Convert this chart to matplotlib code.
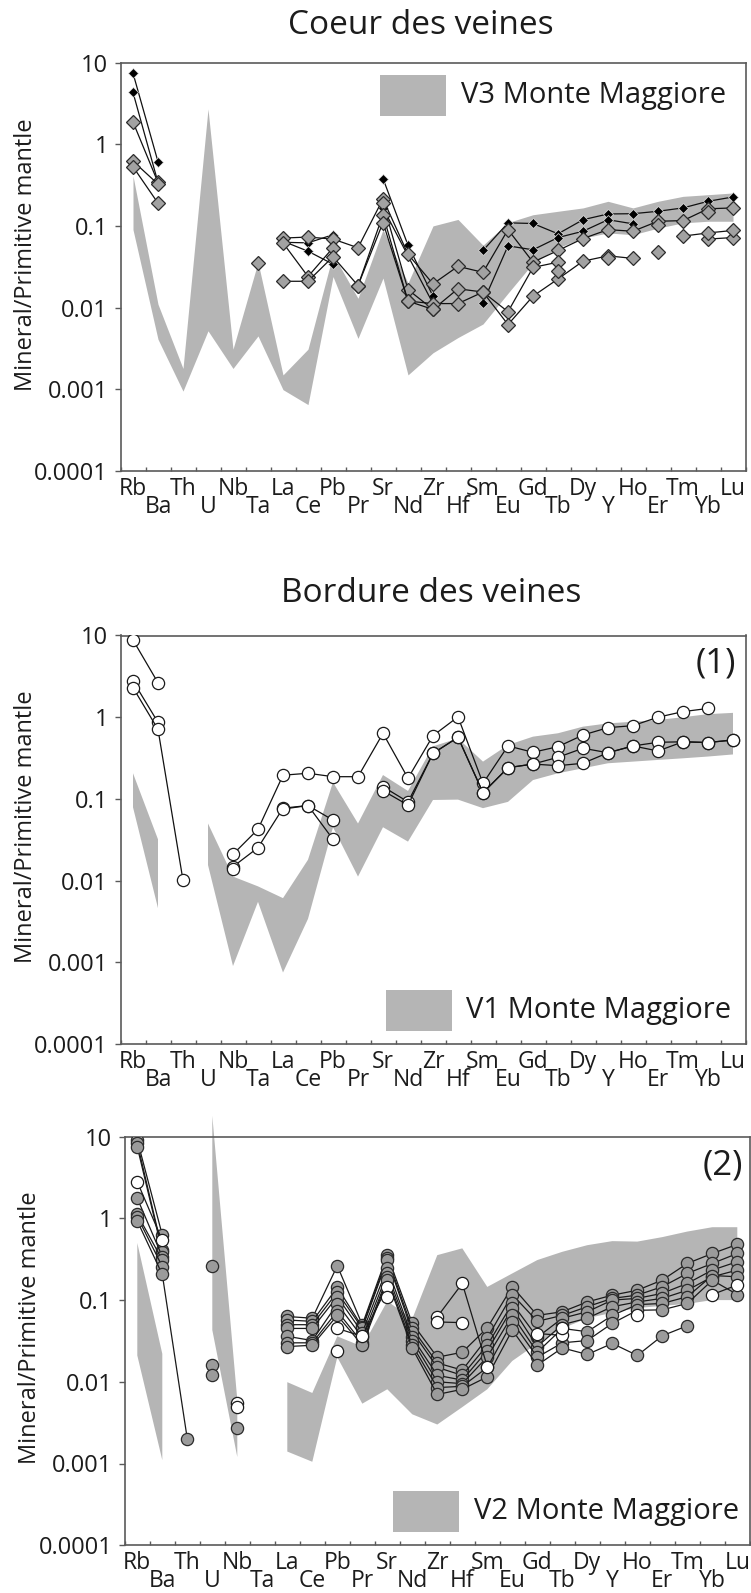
import numpy as np
import matplotlib
matplotlib.use("Agg")
import matplotlib.pyplot as plt
from matplotlib.patches import Rectangle
from matplotlib.ticker import FixedLocator, NullLocator

plt.rcParams['font.family'] = ['Open Sans', 'DejaVu Sans']

n = np.nan
elements = ['Rb', 'Ba', 'Th', 'U', 'Nb', 'Ta', 'La', 'Ce', 'Pb', 'Pr', 'Sr', 'Nd', 'Zr',
            'Hf', 'Sm', 'Eu', 'Gd', 'Tb', 'Dy', 'Y', 'Ho', 'Er', 'Tm', 'Yb', 'Lu']

# --- Coeur des veines : V3 field + diamonds
v3_low = [0.09, 0.0041, 0.00095, 0.0052, 0.0018, 0.0045, 0.00099, 0.00065, 0.024, 0.0042,
          0.023, 0.0015, 0.0028, 0.0043, 0.0063, 0.015, 0.035, 0.054, 0.071, 0.082,
          0.078, 0.094, 0.109, 0.114, 0.114]
v3_high = [0.41, 0.011, 0.0018, 2.7, 0.0031, 0.036, 0.0015, 0.0031, 0.045, 0.013,
           0.09, 0.02, 0.1, 0.12, 0.058, 0.11, 0.137, 0.151, 0.166, 0.2,
           0.166, 0.2, 0.23, 0.241, 0.253]
core_black_1 = [7.4, 0.61, n, n, n, n, 0.063, 0.062, 0.078, n, 0.38, 0.058, 0.0138, n, 0.05,
                0.109, 0.107, 0.08, 0.119, 0.14, 0.141, 0.151, 0.166, 0.2, 0.226]
core_black_2 = [4.3, 0.34, n, n, n, n, 0.065, 0.049, 0.034, n, 0.166, 0.043, 0.0112, n, 0.0115,
                0.057, 0.051, 0.072, 0.086, 0.119, 0.106, n, n, n, n]
core_gray_1 = [1.87, 0.34, n, n, n, n, 0.071, 0.073, 0.069, 0.054, 0.214, 0.045, 0.0195, 0.032,
               0.027, 0.09, 0.036, 0.05, 0.07, 0.09, 0.086, 0.114, 0.116, 0.162, 0.166]
core_gray_2 = [0.62, 0.325, n, n, n, n, 0.062, 0.024, 0.054, n, 0.19, 0.0166, 0.0095, 0.017,
               0.0155, 0.0089, 0.031, 0.036, n, n, n, 0.103, n, 0.146, n]
core_gray_3 = [0.53, 0.19, n, n, n, n, 0.021, 0.021, 0.042, 0.0186, 0.137, 0.012, 0.0112, 0.0112,
               0.0155, 0.0062, 0.0138, 0.0224, 0.037, 0.043, 0.04, n, n, n, n]
core_gray_4 = [n, n, n, n, n, 0.035, n, n, n, 0.0186, 0.11, 0.012, 0.0095, n, n,
               n, n, 0.028, n, 0.04, n, 0.048, n, 0.069, 0.072]
core_gray_5 = [n, n, n, n, n, n, n, n, n, n, n, n, n, n, n,
               n, n, n, n, n, n, n, 0.075, 0.082, 0.088]

# --- Bordure des veines (1) : V1 field + open circles
v1_low = [0.079, 0.0046, n, 0.0155, 0.0009, 0.0055, 0.00075, 0.0034, 0.045, 0.0112,
          0.045, 0.03, 0.097, 0.098, 0.077, 0.092, 0.17, 0.206, 0.237, 0.273,
          0.286, 0.3, 0.314, 0.33, 0.35]
v1_high = [0.206, 0.032, n, 0.05, 0.0112, 0.0085, 0.0061, 0.018, 0.16, 0.05,
           0.196, 0.125, 0.44, 0.55, 0.286, 0.457, 0.578, 0.636, 0.766, 0.84,
           0.88, 0.925, 1.0, 1.09, 1.13]
rim1_a = [8.8, 2.64, n, n, 0.021, 0.0425, 0.195, 0.206, 0.187, 0.187, 0.635, 0.179, 0.594,
          1.01, 0.155, 0.445, 0.372, 0.436, 0.605, 0.745, 0.788, 1.0, 1.17, 1.28, n]
rim1_b = [2.77, 0.865, n, n, 0.0148, 0.0253, 0.077, 0.083, 0.055, n, 0.141, 0.092, 0.361,
          0.567, 0.119, 0.241, 0.267, 0.323, 0.417, 0.367, 0.445, 0.493, 0.5, 0.49, 0.526]
rim1_c = [2.3, 0.71, 0.0101, n, 0.014, n, 0.075, 0.083, 0.032, n, 0.126, 0.084, 0.361,
          0.567, 0.119, 0.241, 0.267, 0.255, 0.273, 0.367, 0.445, 0.386, 0.5, 0.49, 0.526]

# --- Bordure des veines (2) : V2 field + grey / open circles
v2_low = [0.021, 0.0011, n, 0.043, 0.0012, n, 0.0014, 0.00105, 0.02, 0.0054,
          0.0081, 0.004, 0.003, 0.0049, 0.0081, 0.018, 0.0295, 0.045, 0.06, 0.07,
          0.08, 0.085, 0.09, 0.1, 0.1]
v2_high = [0.5, 0.022, n, 18.0, 0.006, n, 0.0099, 0.0073, 0.036, 0.027,
           0.097, 0.059, 0.355, 0.43, 0.145, 0.212, 0.309, 0.39, 0.47, 0.527,
           0.52, 0.59, 0.69, 0.78, 0.78]
rim2_g1 = [9.1, 0.625, n, 0.263, n, n, 0.063, 0.06, 0.263, 0.05, 0.356, 0.052, 0.02, 0.023,
           0.0458, 0.146, 0.065, 0.072, 0.095, 0.115, 0.132, 0.176, 0.281, 0.372, 0.48]
rim2_g2 = [8.3, 0.41, n, 0.016, n, n, 0.057, 0.055, 0.143, 0.047, 0.33, 0.045, 0.017, 0.0139,
           0.0345, 0.117, 0.055, 0.065, 0.083, 0.105, 0.115, 0.146, 0.212, 0.281, 0.372]
rim2_g3 = [7.5, 0.39, n, 0.012, n, n, 0.05, 0.05, 0.125, 0.045, 0.31, 0.041, 0.015, 0.012,
           0.028, 0.091, 0.035, 0.06, 0.072, 0.1, 0.105, 0.121, 0.16, 0.233, 0.295]
rim2_g4 = [1.76, 0.34, n, n, 0.0027, n, 0.045, 0.045, 0.11, 0.04, 0.25, 0.035, 0.012, 0.0105,
           0.024, 0.08, 0.027, 0.05, 0.06, 0.083, 0.095, 0.105, 0.132, 0.193, 0.233]
rim2_g5 = [1.12, 0.31, n, n, n, n, 0.036, 0.032, 0.09, 0.035, 0.212, 0.032, 0.01, 0.0095,
           0.0202, 0.065, 0.023, 0.045, 0.041, 0.065, 0.088, 0.091, 0.11, 0.2, 0.193]
rim2_g6 = [1.05, 0.257, n, n, n, n, 0.03, 0.03, 0.073, 0.03, 0.19, 0.028, 0.0085, 0.0088,
           0.015, 0.054, 0.02, 0.03, 0.032, 0.052, 0.075, 0.076, 0.091, 0.175, 0.117]
rim2_g7 = [0.93, 0.206, 0.002, n, n, n, 0.027, 0.028, 0.065, 0.028, 0.176, 0.0257, 0.007, 0.0081,
           0.0115, 0.043, 0.016, 0.026, 0.0216, 0.0295, 0.021, 0.0366, 0.0485, n, n]
rim2_w1 = [2.8, 0.54, n, n, 0.0055, n, n, n, 0.045, 0.036, 0.145, n, 0.0625, 0.16, 0.0153,
           n, 0.039, 0.037, n, n, 0.065, n, n, 0.117, 0.153]
rim2_w2 = [n, n, n, n, 0.0049, n, n, n, 0.024, n, 0.11, n, 0.054, 0.053, n,
           n, n, 0.045, n, n, n, n, n, n, n]

W, H = 751, 1593
BAND = '#b5b5b5'
SPINE = '#5a5a5a'
TXT = '#1c1c1c'
AX_W, AX_H = 625, 408.5

fig = plt.figure(figsize=(W / 100, H / 100), dpi=100)


def make_axes(left, top):
    ax = fig.add_axes([left / W, 1 - (top + AX_H) / H, AX_W / W, AX_H / H])
    ax.set_yscale('log')
    ax.set_ylim(1e-4, 10)
    ax.set_xlim(-0.5, 24.5)
    ax.yaxis.set_major_locator(FixedLocator([1e-4, 1e-3, 1e-2, 1e-1, 1, 10]))
    ax.yaxis.set_minor_locator(NullLocator())
    ax.set_yticklabels(['0.0001', '0.001', '0.01', '0.1', '1', '10'])
    ax.set_xticks(np.arange(-0.5, 25, 1))
    ax.set_xticklabels([])
    ax.tick_params(axis='x', direction='in', length=3, width=1, color=SPINE)
    ax.tick_params(axis='y', direction='out', length=4, width=1, color=SPINE,
                   pad=5, labelsize=17, labelcolor=TXT)
    for s in ax.spines.values():
        s.set_color(SPINE)
        s.set_linewidth(1.2)
    tr = ax.get_xaxis_transform()
    for i, el in enumerate(elements):
        off = 18 if i % 2 == 0 else 36
        ax.text(i, -off / AX_H, el, transform=tr, ha='center', va='center',
                fontsize=16.5, color=TXT)
    return ax


def band(ax, low, high, clip=True):
    x = np.arange(len(elements))
    ax.fill_between(x, np.array(low, float), np.array(high, float), color=BAND,
                    lw=0, zorder=1, clip_on=clip)


def legend_box(ax, left, top, label):
    # grey swatch + label, positioned in figure pixels
    x0 = (left - ax_left[ax]) / AX_W
    y1 = 1 - (top - ax_top[ax]) / AX_H
    ax.add_patch(Rectangle((x0, y1 - 41 / AX_H), 66 / AX_W, 41 / AX_H,
                           transform=ax.transAxes, color=BAND, lw=0, zorder=1))
    ax.text(x0 + 81 / AX_W, y1 - 21 / AX_H, label, transform=ax.transAxes,
            ha='left', va='center', fontsize=21, color=TXT)


ax_left, ax_top = {}, {}
x = np.arange(len(elements))

# ---------- panel 1
ax1 = make_axes(120.5, 62.5)
ax_left[ax1], ax_top[ax1] = 120.5, 62.5
band(ax1, v3_low, v3_high)
for s in [core_black_1, core_black_2]:
    ax1.plot(x, s, color='#111111', lw=0.9, marker='D', ms=5.2, mfc='black',
             mec='#e0e0e0', mew=0.5, zorder=3)
for s in [core_gray_1, core_gray_2, core_gray_3, core_gray_4, core_gray_5]:
    ax1.plot(x, s, color='#111111', lw=0.9, marker='D', ms=7, mfc='#a2a2a2',
             mec='#2b2b2b', mew=0.9, zorder=4)
legend_box(ax1, 380, 75, 'V3 Monte Maggiore')
fig.text(421 / W, 1 - 26 / H, 'Coeur des veines', ha='center', va='center',
         fontsize=24, color=TXT)

# ---------- panel 2
ax2 = make_axes(120.5, 635.5)
ax_left[ax2], ax_top[ax2] = 120.5, 635.5
band(ax2, v1_low, v1_high)
for s in [rim1_a, rim1_b, rim1_c]:
    ax2.plot(x, s, color='#111111', lw=0.9, marker='o', ms=8.8, mfc='white',
             mec='#1a1a1a', mew=0.9, zorder=4)
legend_box(ax2, 385.5, 989.5, 'V1 Monte Maggiore')
fig.text(431 / W, 1 - 593 / H, 'Bordure des veines', ha='center', va='center',
         fontsize=24, color=TXT)
fig.text(716 / W, 1 - 663 / H, '(1)', ha='center', va='center', fontsize=25,
         color=TXT)

# ---------- panel 3
ax3 = make_axes(124.8, 1136.7)
ax_left[ax3], ax_top[ax3] = 124.8, 1136.7
band(ax3, v2_low, v2_high, clip=False)
for s in [rim2_g1, rim2_g2, rim2_g3, rim2_g4, rim2_g5, rim2_g6, rim2_g7]:
    ax3.plot(x, s, color='#1a1a1a', lw=0.9, marker='o', ms=8.8, mfc='#9b9b9b',
             mec='#2b2b2b', mew=0.9, zorder=4)
for s in [rim2_w1, rim2_w2]:
    ax3.plot(x, s, color='#1a1a1a', lw=0.9, marker='o', ms=8.8, mfc='white',
             mec='#1a1a1a', mew=0.9, zorder=5)
legend_box(ax3, 392.7, 1491, 'V2 Monte Maggiore')
fig.text(723 / W, 1 - 1165 / H, '(2)', ha='center', va='center', fontsize=25,
         color=TXT)

# y labels
for yc, xc in [(255, 26), (827, 26), (1328, 30)]:
    fig.text(xc / W, 1 - yc / H, 'Mineral/Primitive mantle', rotation=90,
             ha='center', va='center', fontsize=17, color=TXT)

fig.savefig('out.png', dpi=100)
